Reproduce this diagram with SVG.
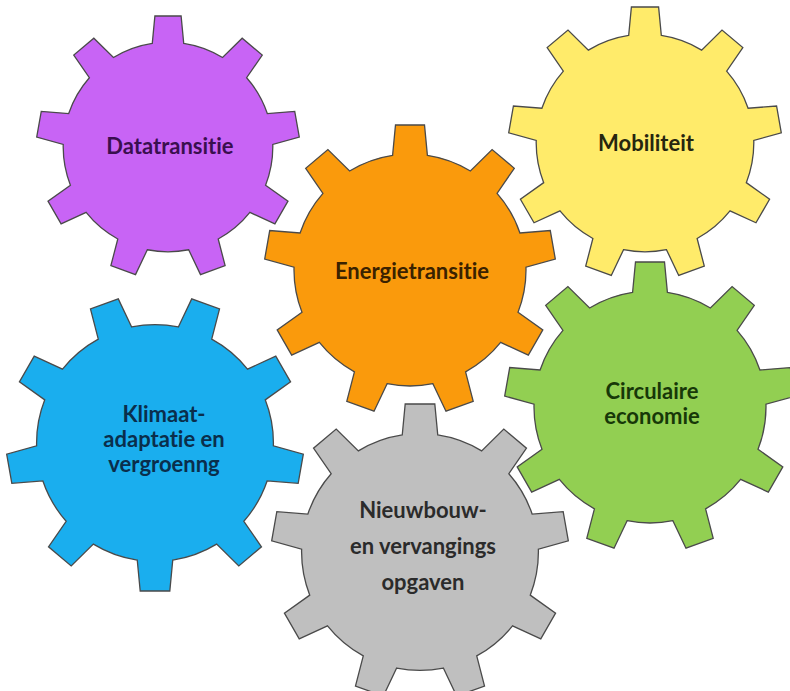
<svg xmlns="http://www.w3.org/2000/svg" width="790" height="691" viewBox="0 0 790 691">
<style>
.g{stroke:#4a4a4a;stroke-width:1.3;stroke-linejoin:miter}
.t{font-family:Lato,"Open Sans","Liberation Sans",sans-serif;font-weight:700;font-size:22px;text-anchor:middle;font-variant-ligatures:none;font-feature-settings:"liga" 0,"clig" 0,"dlig" 0}
</style>
<defs>
<path id="gear" vector-effect="non-scaling-stroke" d="M -12 -79.095 L -10 -100 L 10 -100 L 12 -79.095 A 80 80 0 0 1 41.649 -68.303 L 56.619 -83.032 L 71.939 -70.176 L 60.033 -52.877 A 80 80 0 0 1 75.810 -25.553 L 96.744 -27.213 L 100.218 -7.517 L 79.978 -1.917 A 80 80 0 0 1 74.498 29.156 L 91.603 41.340 L 81.603 58.660 L 62.498 49.940 A 80 80 0 0 1 38.328 70.221 L 43.599 90.549 L 24.805 97.389 L 15.776 78.429 A 80 80 0 0 1 -15.776 78.429 L -24.805 97.389 L -43.599 90.549 L -38.328 70.221 A 80 80 0 0 1 -62.498 49.940 L -81.603 58.660 L -91.603 41.340 L -74.498 29.156 A 80 80 0 0 1 -79.978 -1.917 L -100.218 -7.517 L -96.744 -27.213 L -75.810 -25.553 A 80 80 0 0 1 -60.033 -52.877 L -71.939 -70.176 L -56.619 -83.032 L -41.649 -68.303 A 80 80 0 0 1 -12 -79.095 Z"/>
</defs>
<rect width="790" height="691" fill="#ffffff"/>
<g id="connectors"></g>
<g id="datatransitie">
<use href="#gear" class="g" fill="#C864F5" transform="translate(168,147) scale(1.31)"/>
<text class="t" x="170" y="154" fill="#3a0f4f">Datatransitie</text>
</g>
<g id="mobiliteit">
<use href="#gear" class="g" fill="#FFEB6A" transform="translate(645,143) scale(1.36)"/>
<text class="t" x="646" y="151" fill="#26260f">Mobiliteit</text>
</g>
<g id="energietransitie">
<use href="#gear" class="g" fill="#FA9A0C" transform="translate(410,270) scale(1.45)"/>
<text class="t" x="412" y="279" fill="#3a2200">Energietransitie</text>
</g>
<g id="klimaatadaptatie">
<use href="#gear" class="g" fill="#1AAEEE" transform="translate(155,443) rotate(180) scale(1.48)"/>
<text class="t" fill="#0a2e4c"><tspan x="164" y="422">Klimaat-</tspan><tspan x="164" y="447">adaptatie en</tspan><tspan x="164" y="472">vergroenng</tspan></text>
</g>
<g id="circulaire-economie">
<use href="#gear" class="g" fill="#92CF52" transform="translate(650,407) scale(1.45)"/>
<text class="t" fill="#173808"><tspan x="652" y="399">Circulaire</tspan><tspan x="652" y="424">economie</tspan></text>
</g>
<g id="nieuwbouw">
<use href="#gear" class="g" fill="#BFBFBF" transform="translate(420,552) scale(1.48)"/>
<text class="t" fill="#2b2b2b"><tspan x="423" y="518">Nieuwbouw-</tspan><tspan x="423" y="554">en vervangings</tspan><tspan x="423" y="590">opgaven</tspan></text>
</g>
</svg>
